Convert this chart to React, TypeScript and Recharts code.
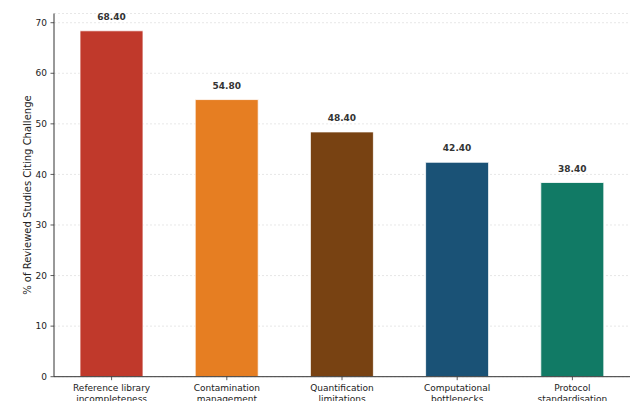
import React from "react";
import { BarChart, Bar, XAxis, YAxis, CartesianGrid, Cell, LabelList } from "recharts";

const categories = [
  "Reference library\nincompleteness",
  "Contamination\nmanagement",
  "Quantification\nlimitations",
  "Computational\nbottlenecks",
  "Protocol\nstandardisation",
];
const values = [68.4, 54.8, 48.4, 42.4, 38.4];
const colors = ["#c0392b", "#e67e22", "#784212", "#1a5276", "#117a65"];
const yTicks = [0, 10, 20, 30, 40, 50, 60, 70];
const yLabel = "% of Reviewed Studies Citing Challenge";

const data = categories.map((c, i) => ({ name: c, value: values[i] }));

const FONT = "DejaVu Sans, sans-serif";

const XTick = (props: any) => {
  const { x, y, payload } = props;
  const lines = String(payload.value).split("\n");
  return (
    <text x={x} y={y} textAnchor="middle" fontFamily={FONT} fontSize={9} fill="#222">
      {lines.map((l, i) => (
        <tspan key={i} x={x} dy={i === 0 ? 7.5 : 10.8}>
          {l}
        </tspan>
      ))}
    </text>
  );
};

export default function App() {
  return (
    <div style={{ position: "absolute", left: 0, top: 0, width: 632, height: 401, background: "#fff" }}>
      <BarChart
        width={632}
        height={401}
        data={data}
        margin={{ top: 13.5, right: 2, bottom: 0, left: 0 }}
        barCategoryGap={0}
      >
        <CartesianGrid vertical={false} stroke="#dddddd" strokeDasharray="2 2" strokeWidth={0.7} />
        <XAxis
          dataKey="name"
          height={24.3}
          interval={0}
          tick={<XTick />}
          tickSize={3.5}
          tickMargin={3.5}
          axisLine={{ stroke: "#333", strokeWidth: 1 }}
          tickLine={{ stroke: "#333", strokeWidth: 0.8 }}
        />
        <YAxis
          width={54}
          domain={[0, 71.82]}
          ticks={yTicks}
          allowDataOverflow
          tickSize={3.5}
          tickMargin={3.5}
          tick={{ fontFamily: FONT, fontSize: 9, fill: "#222" }}
          axisLine={{ stroke: "#333", strokeWidth: 1 }}
          tickLine={{ stroke: "#333", strokeWidth: 0.8 }}
          label={{
            value: yLabel,
            angle: -90,
            position: "center",
            dx: 0,
            style: { fontFamily: FONT, fontSize: 10, fill: "#222", textAnchor: "middle" },
          }}
        />
        <Bar dataKey="value" barSize={63} isAnimationActive={false} stroke="#ffffff" strokeWidth={0.8}>
          {data.map((d, i) => (
            <Cell key={i} fill={colors[i]} />
          ))}
          <LabelList
            dataKey="value"
            position="top"
            offset={11}
            formatter={(v: any) => Number(v).toFixed(2)}
            style={{ fontFamily: FONT, fontSize: 9, fontWeight: "bold", fill: "#333" }}
          />
        </Bar>
      </BarChart>
    </div>
  );
}
